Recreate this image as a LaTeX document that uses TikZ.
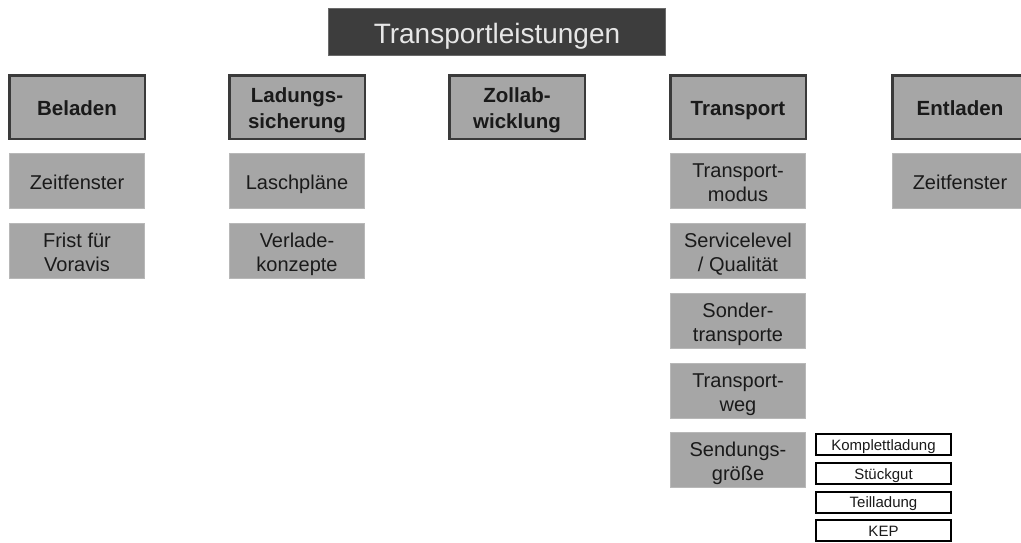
\documentclass[tikz,border=0pt]{standalone}
\usepackage{fontspec}
\setmainfont{Liberation Sans}
\definecolor{titlegray}{HTML}{3D3D3D}
\definecolor{titleborder}{HTML}{6A6A6A}
\definecolor{titletext}{HTML}{E6E6E6}
\definecolor{boxgray}{HTML}{A6A6A6}
\definecolor{headborder}{HTML}{3A3A3A}
\definecolor{subborder}{HTML}{B8B8B8}
\definecolor{txt}{HTML}{1A1A1A}
\newcommand\sm[1]{\smash{#1}}
\newcommand\twolines[2]{\smash{\begin{tabular}[t]{@{}c@{}}#1\\#2\end{tabular}}\rule[-\baselineskip]{0pt}{\baselineskip}}
\begin{document}
\begin{tikzpicture}[x=1pt,y=-1pt,
  titlebox/.style={fill=titlegray, draw=titleborder, line width=0.8pt, minimum width=337pt, minimum height=47pt, inner sep=0pt, text=titletext, font=\fontsize{28}{32}\selectfont, execute at begin node={\rule{0pt}{22.6pt}}},
  headbox/.style={fill=boxgray, draw=headborder, line width=2.5pt, minimum width=135.5pt, minimum height=63.5pt, inner sep=0pt, text=txt, font=\bfseries\fontsize{20.5}{25.5}\selectfont, execute at begin node={\rule{0pt}{16.7pt}}},
  subbox/.style={fill=boxgray, draw=subborder, line width=0.6pt, minimum width=135pt, minimum height=55pt, inner sep=0pt, text=txt, font=\fontsize{20}{24}\selectfont, execute at begin node={\rule{0pt}{17.3pt}}},
  smallbox/.style={fill=white, draw=black, line width=2pt, minimum width=135pt, minimum height=21pt, inner sep=0pt, text=txt, font=\fontsize{15}{16}\selectfont, execute at begin node={\rule{0pt}{11.7pt}}}]
\useasboundingbox (0,0) rectangle (1021,542);
\fill[white] (0,0) rectangle (1021,542);

\node[titlebox] (title) at (497,32) {\sm{Transportleistungen}};

\node[headbox] (beladen) at (77,107) {\sm{Beladen}};
\node[headbox] (ladung) at (297,107) {\twolines{Ladungs-}{sicherung}};
\node[headbox] (zoll) at (517,107) {\twolines{Zollab-}{wicklung}};
\node[headbox] (transport) at (738,107) {\sm{Transport}};
\node[headbox] (entladen) at (960,107) {\sm{Entladen}};

\node[subbox] (zf1) at (77,181) {\sm{Zeitfenster}};
\node[subbox] (frist) at (77,251) {\twolines{Frist für}{Voravis}};
\node[subbox] (lasch) at (297,181) {\sm{Laschpläne}};
\node[subbox] (verlade) at (297,251) {\twolines{Verlade-}{konzepte}};
\node[subbox] (modus) at (738,181) {\twolines{Transport-}{modus}};
\node[subbox] (service) at (738,251) {\twolines{Servicelevel}{/ Qualität}};
\node[subbox] (sonder) at (738,321) {\twolines{Sonder-}{transporte}};
\node[subbox] (weg) at (738,391) {\twolines{Transport-}{weg}};
\node[subbox] (sendung) at (738,460) {\twolines{Sendungs-}{größe}};
\node[subbox] (zf2) at (960,181) {\sm{Zeitfenster}};

\node[smallbox] (komplett) at (883.5,444.5) {\sm{Komplettladung}};
\node[smallbox] (stueck) at (883.5,473.5) {\sm{Stückgut}};
\node[smallbox] (teil) at (883.5,502) {\sm{Teilladung}};
\node[smallbox] (kep) at (883.5,530.5) {\sm{KEP}};
\end{tikzpicture}
\end{document}
